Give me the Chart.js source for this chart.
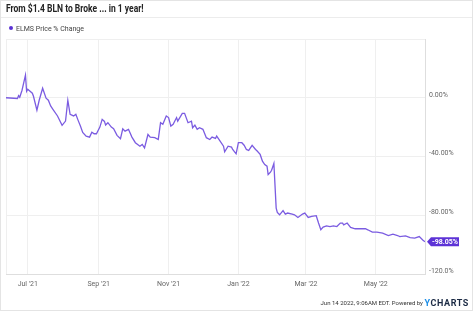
<!DOCTYPE html>
<html>
<head>
<meta charset="utf-8">
<script src="https://cdn.jsdelivr.net/npm/chart.js@4.4.0/dist/chart.umd.min.js"></script>
<style>
  html, body { margin: 0; padding: 0; background: #fff; }
  #wrap { position: relative; width: 473px; height: 311px; overflow: hidden; font-family: Roboto, "Liberation Sans", sans-serif; }
  #frame { position: absolute; left: 0; top: 0; width: 471px; height: 309px; border: 1px solid #e4e4e4; pointer-events: none; }
  #title { position: absolute; left: 6px; top: 3px; font-size: 10px; font-weight: bold; color: #222; white-space: nowrap; transform-origin: left top; transform: scaleX(0.85); }
  #rule { position: absolute; left: 0; top: 17px; width: 473px; height: 1px; background: #ececec; }
  #legend { position: absolute; left: 9px; top: 25px; font-size: 7px; color: #444; white-space: nowrap; }
  #legend .dot { display: inline-block; width: 4px; height: 4px; border-radius: 50%; background: #5a31d4; margin-right: 3px; vertical-align: 1px; }
  #footer { position: absolute; right: 4px; bottom: 3px; font-size: 6px; color: #333; white-space: nowrap; }
  #footer .logo { font-size: 9px; font-weight: bold; letter-spacing: 0.6px; color: #1b2a44; vertical-align: -1px; }
  #footer .logo span { color: #1e8fe8; }
  canvas { position: absolute; left: 0; top: 0; }
</style>
</head>
<body>
<div id="wrap">
  <canvas id="chartCanvas" width="473" height="311"></canvas>
  <div id="title">From $1.4 BLN to Broke ... in 1 year!</div>
  <div id="rule"></div>
  <div id="legend"><span class="dot"></span>ELMS Price % Change</div>
  <div id="footer">Jun 14 2022, 9:06AM EDT. Powered by <span class="logo"><span>Y</span>CHARTS</span></div>
  <div id="frame"></div>
</div>
<script>
// Series: days since 2021-06-12 and price % change
const seriesName = 'ELMS Price % Change';
const dayOffsets = [
  0, 10, 11, 12, 14, 17, 18, 19, 23, 24, 27, 29, 32, 35, 37, 39, 41, 45, 49, 52,
  54, 56, 59, 61, 63, 65, 67, 70, 73, 75, 77, 79, 82, 84, 86, 87, 89, 92, 94, 97,
  100, 102, 104, 107, 110, 113, 117, 119, 121, 124, 126, 130, 133, 135, 137, 140, 142, 144, 146, 149,
  150, 154, 156, 159, 162, 163, 165, 167, 169, 172, 175, 178, 180, 183, 184, 186, 190, 191, 194, 197,
  198, 201, 203, 206, 208, 210, 212, 215, 218, 219, 222, 224, 226, 228, 229, 231, 232, 234, 236, 237,
  239, 242, 244, 246, 250, 252, 255, 259, 261, 264, 267, 271, 273, 275, 277, 280, 283, 286, 289, 292,
  294, 295, 298, 301, 305, 309, 314, 316, 320, 324, 329, 334, 338, 342, 344, 349, 353, 357, 361, 364,
  366
];
const pctChange = [
  0, -0.5, 1.4, 0.3, 5.1, 15.4, 4.4, 5.8, 3.1, 1.0, -8.5, -1.7, 6.5, -0.3, -1.7, -5.6, -7.9, -12.4, -18.8, -15.9,
  -1.7, -11.3, -12.4, -11.3, -15.4, -19.3, -23.6, -26.1, -26.8, -23.4, -24.5, -24.5, -20.0, -14.7, -16.1, -18.6, -17.0, -20.0, -21.1, -25.6,
  -27.9, -21.1, -22.7, -21.5, -26.8, -30.6, -33.0, -31.8, -34.1, -25.0, -26.8, -27.2, -28.4, -17.0, -18.1, -12.4, -13.5, -19.3, -18.1, -13.5,
  -15.9, -10.6, -10.6, -17.0, -15.9, -20.4, -18.6, -21.5, -20.4, -21.5, -27.2, -28.4, -26.8, -27.7, -26.1, -28.4, -33.0, -36.8, -33.0, -33.6,
  -35.2, -38.2, -30.6, -30.6, -32.3, -35.2, -35.9, -32.4, -35.2, -35.9, -38.6, -43.2, -45.5, -46.6, -52.3, -50.7, -49.4, -44.8, -75.1, -78.1,
  -79.7, -76.9, -79.2, -78.5, -79.2, -79.7, -81.5, -79.2, -78.5, -81.5, -80.8, -80.3, -85.3, -89.9, -88.1, -87.2, -87.7, -87.2, -87.7, -85.3,
  -85.3, -86.5, -85.3, -88.3, -89.2, -89.2, -89.2, -89.9, -91.5, -91.5, -92.2, -93.8, -92.9, -93.8, -94.5, -94.0, -95.2, -95.6, -94.5, -96.8,
  -98.05
];
// Month ticks (days since 2021-06-12)
const tickDays = [19, 81, 142, 203, 262, 323];
const tickLabels = ["Jul '21", "Sep '21", "Nov '21", "Jan '22", "Mar '22", "May '22"];
const lastLabel = '-98.05%';

const lineColor = '#7b5ce1';
const tagColor = '#5d33d6';
const gridColor = '#efefef';

// Draw the purple value tag at the end of the line, on the right axis.
const endTagPlugin = {
  id: 'endTag',
  afterDatasetsDraw(chart) {
    const { ctx, chartArea, scales } = chart;
    const y = scales.y.getPixelForValue(pctChange[pctChange.length - 1]);
    const x = chartArea.right + 2;
    const h = 9, w = 28;
    ctx.save();
    ctx.fillStyle = tagColor;
    ctx.beginPath();
    ctx.moveTo(x, y);
    ctx.lineTo(x + 4, y - h / 2);
    ctx.lineTo(x + 4 + w, y - h / 2);
    ctx.lineTo(x + 4 + w, y + h / 2);
    ctx.lineTo(x + 4, y + h / 2);
    ctx.closePath();
    ctx.fill();
    ctx.fillStyle = '#fff';
    ctx.font = 'bold 7px Roboto, "Liberation Sans", sans-serif';
    ctx.textBaseline = 'middle';
    ctx.fillText(lastLabel, x + 5, y + 0.5);
    ctx.restore();
  }
};

new Chart(document.getElementById('chartCanvas').getContext('2d'), {
  type: 'line',
  data: {
    datasets: [{
      label: seriesName,
      data: dayOffsets.map((d, i) => ({ x: d, y: pctChange[i] })),
      borderColor: lineColor,
      borderWidth: 1.3,
      pointRadius: 0,
      tension: 0
    }]
  },
  options: {
    responsive: false,
    animation: false,
    layout: { padding: { left: 6, top: 39, right: 0, bottom: 0 } },
    plugins: { legend: { display: false }, tooltip: { enabled: false } },
    scales: {
      x: {
        type: 'linear',
        min: 0,
        max: 366,
        afterBuildTicks: (scale) => {
          scale.ticks = [0, ...tickDays, 366].map((v) => ({ value: v }));
        },
        afterFit: (scale) => { scale.height = 37; },
        grid: { color: gridColor, drawTicks: false },
        border: { color: '#dedede' },
        ticks: {
          autoSkip: false,
          maxRotation: 0,
          padding: 6,
          color: '#666',
          font: { size: 7, family: 'Roboto' },
          callback: (value) => {
            const i = tickDays.indexOf(value);
            return i >= 0 ? tickLabels[i] : '';
          }
        }
      },
      y: {
        position: 'right',
        min: -120,
        max: 40,
        afterFit: (scale) => { scale.width = 48; },
        grid: { color: gridColor, drawTicks: false },
        border: { color: '#dedede' },
        ticks: {
          stepSize: 40,
          padding: 4,
          labelOffset: -3,
          color: '#666',
          font: { size: 7, family: 'Roboto' },
          callback: (value) => {
            if (value === 40) return '';
            if (value === -120) return '-120.0%';
            return value.toFixed(2) + '%';
          }
        }
      }
    }
  },
  plugins: [endTagPlugin]
});
</script>
</body>
</html>
